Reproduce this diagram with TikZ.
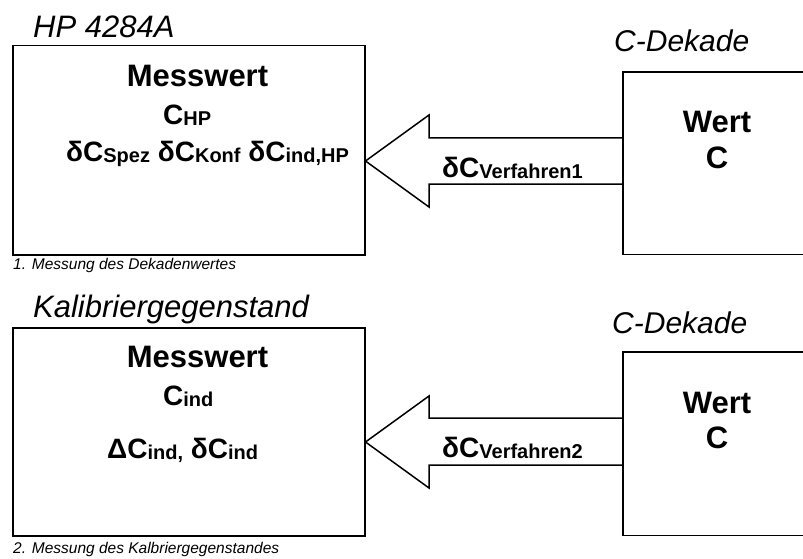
\documentclass[tikz,border=0pt]{standalone}
\usepackage{fontspec}
\setmainfont{Liberation Sans}
\usetikzlibrary{positioning}

\newcommand{\sbs}[1]{\raisebox{-1pt}{\fontsize{20}{20}\selectfont #1}}

\tikzset{
    box/.style={draw, line width=1.5pt, inner sep=0pt},
    openbox/.style={inner sep=0pt},
    boxline/.style={line width=1.5pt},
    titletxt/.style={anchor=base west, inner sep=0pt, font=\fontsize{31}{31}\selectfont\itshape},
    dektxt/.style={anchor=base west, inner sep=0pt, font=\fontsize{30}{30}\selectfont\itshape},
    headtxt/.style={anchor=base, inner sep=0pt, font=\fontsize{31}{31}\selectfont\bfseries},
    valtxt/.style={anchor=base west, inner sep=0pt, font=\fontsize{28}{28}\selectfont\bfseries},
    captxt/.style={anchor=base west, inner sep=0pt, font=\fontsize{15.5}{15.5}\selectfont\itshape},
    blockarrow/.style={line width=1.5pt, line join=miter}
}

\begin{document}
\begin{tikzpicture}[x=1pt, y=-1pt]
    \useasboundingbox (0,0) rectangle (803,559);

    % 1. Messung
    \node[box, anchor=north west, minimum width=352pt, minimum height=209pt] (hp) at (12,45) {};
    \node[openbox, anchor=north west, minimum width=195pt, minimum height=182pt] (dek1) at (623,72) {};
    \draw[boxline] (dek1.north east) -- (dek1.north west) -- (dek1.south west) -- (dek1.south east);
    \node[titletxt] (hpname) at (33,38) {HP 4284A};
    \node[dektxt] (dek1name) at (614,52) {C-Dekade};
    \node[headtxt] (hphead) at (197.5,87) {Messwert};
    \node[valtxt] (hpval) at (163,125) {C\sbs{HP}};
    \node[valtxt] (hperr) at (66,161) {δC\sbs{Spez} δC\sbs{Konf} δC\sbs{ind,HP}};
    \node[headtxt] (dek1head) at (717,133) {Wert};
    \node[headtxt] (dek1val) at (717,168) {C};
    \node[captxt] (cap1) at (13,269) {1. Messung des Dekadenwertes};

    \coordinate (tip1) at (hp.east |- 0,161);
    \draw[blockarrow] (dek1.west |- 0,138) -- (429,138) -- (429,115) -- (tip1)
                      -- (429,207) -- (429,184) -- (dek1.west |- 0,184);
    \node[valtxt] (vf1) at (442,177) {δC\sbs{Verfahren1}};

    % 2. Messung
    \node[box, anchor=north west, minimum width=352pt, minimum height=208pt] (kal) at (12,327) {};
    \node[openbox, anchor=north west, minimum width=195pt, minimum height=183pt] (dek2) at (623,352) {};
    \draw[boxline] (dek2.north east) -- (dek2.north west) -- (dek2.south west) -- (dek2.south east);
    \node[titletxt] (kalname) at (33,317) {Kalibriergegenstand};
    \node[dektxt] (dek2name) at (612,333) {C-Dekade};
    \node[headtxt] (kalhead) at (197.5,367) {Messwert};
    \node[valtxt] (kalval) at (163,405) {C\sbs{ind}};
    \node[valtxt] (kalerr) at (107,458) {ΔC\sbs{ind,} δC\sbs{ind}};
    \node[headtxt] (dek2head) at (717,413) {Wert};
    \node[headtxt] (dek2val) at (717,448) {C};
    \node[captxt] (cap2) at (13,553) {2. Messung des Kalbriergegenstandes};

    \coordinate (tip2) at (kal.east |- 0,442);
    \draw[blockarrow] (dek2.west |- 0,418) -- (429,418) -- (429,396) -- (tip2)
                      -- (429,488) -- (429,465) -- (dek2.west |- 0,465);
    \node[valtxt] (vf2) at (442,457) {δC\sbs{Verfahren2}};

\end{tikzpicture}
\end{document}
